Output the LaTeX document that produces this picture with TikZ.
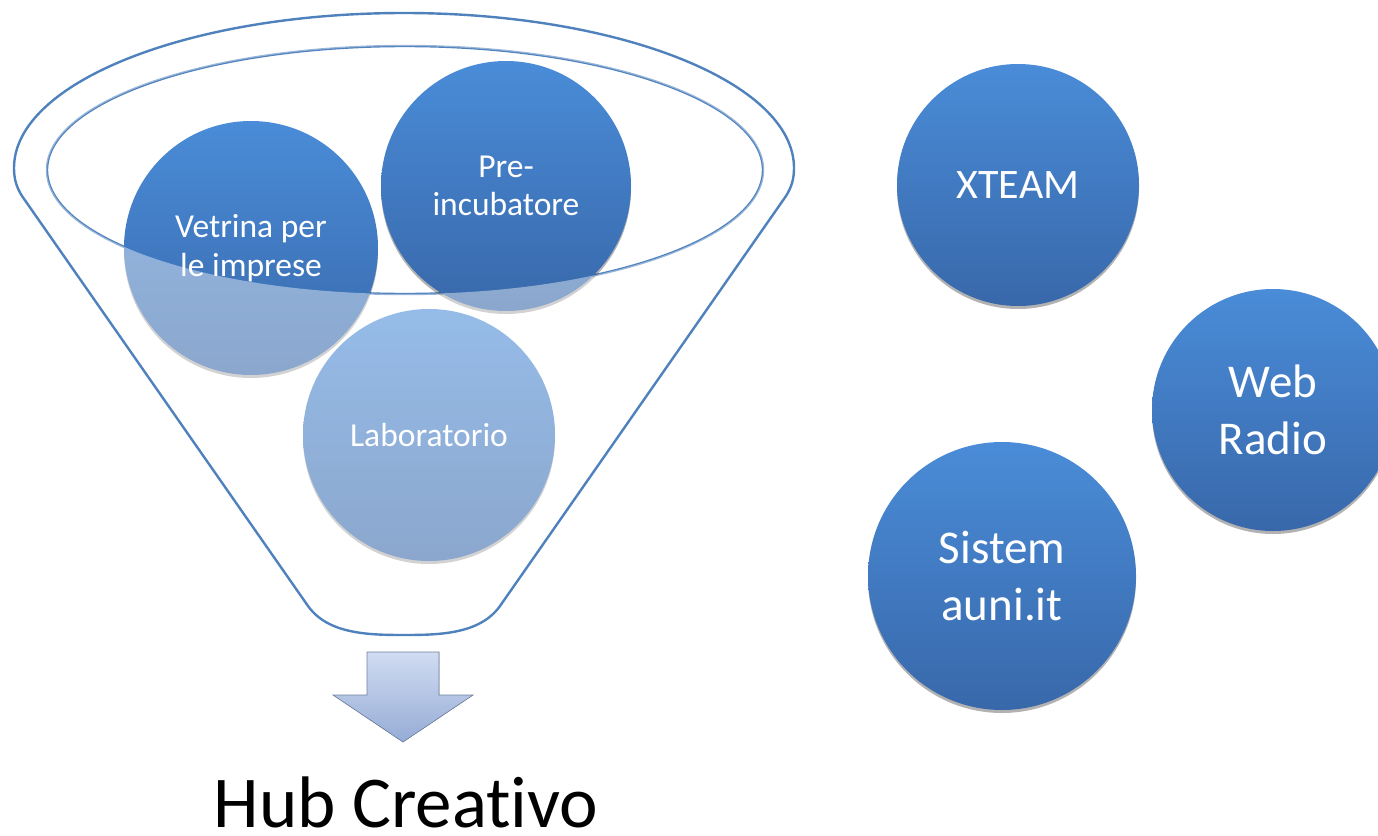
\documentclass[tikz,border=0pt]{standalone}
\usepackage{fontspec}
\setmainfont{Carlito}[Ligatures=NoCommon]
\usetikzlibrary{shadows}
\definecolor{rim}{RGB}{79,129,189}
\definecolor{bubtop}{RGB}{74,140,216}
\definecolor{bubbot}{RGB}{56,104,170}
\definecolor{arrtop}{RGB}{208,220,241}
\definecolor{arrbot}{RGB}{150,172,214}
\begin{document}
\begin{tikzpicture}[x=1pt,y=-1pt,
  bub/.style={circle, top color=bubtop, bottom color=bubbot, text=white, align=center, inner sep=0pt,
    drop shadow={shadow xshift=0pt, shadow yshift=-3pt, opacity=0.3, fill=black}},
  smalltxt/.style={font=\fontsize{33.5}{38.5}\selectfont},
  bigtxt/.style={font=\fontsize{47}{57}\selectfont},
  rimline/.style={draw=rim, line width=2.4pt},
  overlay/.style={fill=white, fill opacity=0.42, even odd rule}]
\useasboundingbox (0,0) rectangle (1378,835);
\clip (0,0) rectangle (1378,835);
\def\funnel{(14,168) arc[start angle=180,end angle=360,x radius=390,y radius=155]
  .. controls (794,180) and (791,188) .. (786,196) -- (500,606)
  .. controls (480,634) and (440,635) .. (404,635)
  .. controls (368,635) and (328,634) .. (308,606) -- (22,196)
  .. controls (17,188) and (14,180) .. (14,168) -- cycle}
% inner rim of the funnel
\draw[rimline] (405,170) ellipse[x radius=358, y radius=124];
% bubbles inside the funnel
\node[bub, smalltxt, minimum size=254pt] (vet) at (251,248) {Vetrina per\\le imprese};
\node[bub, smalltxt, minimum size=250pt] (pre) at (506,186) {Pre-\\incubatore};
\node[bub, smalltxt, minimum size=252pt] (lab) at (429,435) {Laboratorio};
% front face of the funnel
\fill[overlay] \funnel (405,170) ellipse[x radius=358, y radius=124];
\draw[rimline] \funnel;
% arrow
\fill[top color=arrtop, bottom color=arrbot, draw=arrbot!75!black, line width=0.6pt]
  (367,652) -- (439,652) -- (439,695) -- (473,695) -- (403,742) -- (333,695) -- (367,695) -- cycle;
\node[font=\fontsize{73}{80}\selectfont, anchor=base, inner sep=0pt] (hub) at (406,827) {Hub Creativo};
% bubbles on the right
\node[bub, font=\fontsize{42}{50}\selectfont, minimum size=242pt] (xteam) at (1018,185) {XTEAM};
\node[bub, bigtxt, minimum size=242pt] (web) at (1273,410) {Web\\Radio};
\node[bub, bigtxt, minimum size=268pt] (sis) at (1002,576) {Sistem\\auni.it};
\end{tikzpicture}
\end{document}
